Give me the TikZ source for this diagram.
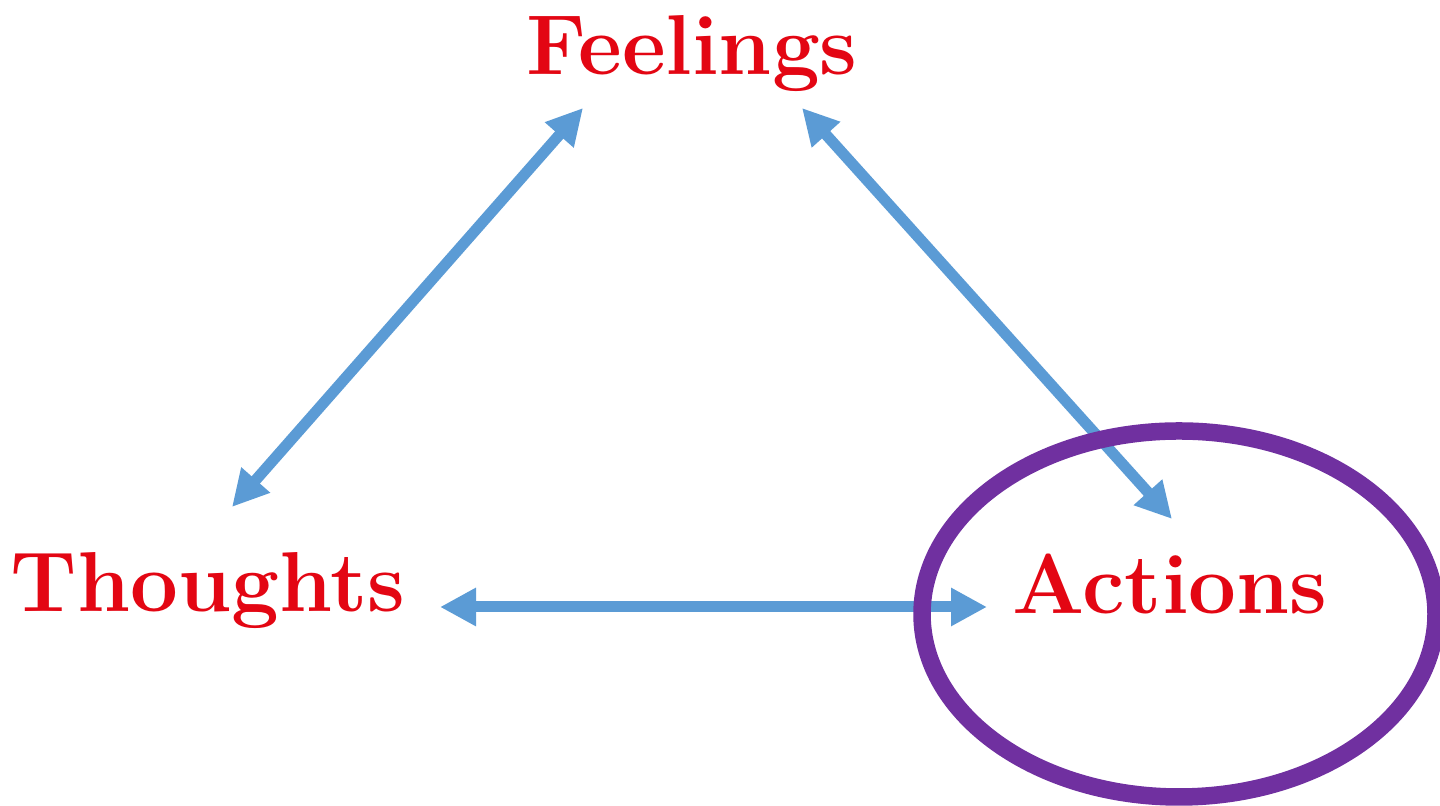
\documentclass[tikz,border=0pt]{standalone}
\usetikzlibrary{arrows.meta}
\definecolor{wordred}{HTML}{E30613}
\definecolor{linkblue}{HTML}{5B9BD5}
\definecolor{ringpurple}{HTML}{7030A0}

\begin{document}
\begin{tikzpicture}[>={Triangle[length=3.6mm,width=3.6mm]},
  every node/.style={font=\fontsize{24.2}{29}\selectfont\bfseries,text=wordred,inner sep=0pt,anchor=base},
  link/.style={<->,draw=linkblue,line width=1.1mm}]
  \useasboundingbox (0,0) rectangle (14.4,8.06);
  \node (feel) at (6.92,7.31) {Feelings};
  \node (thou) at (2.08,1.94) {Thoughts};
  \node (act) at (11.70,1.92) {Actions};
  % arrow ends
  \coordinate (ft) at (5.83,6.98);
  \coordinate (fa) at (8.02,6.98);
  \coordinate (tf) at (2.32,2.99);
  \coordinate (ta) at (4.40,1.99);
  \coordinate (at) at (9.87,1.99);
  \coordinate (af) at (11.72,2.87);
  \draw[link] (tf) -- (ft);
  \draw[link] (fa) -- (af);
  \draw[link] (ta) -- (at);
  \draw[ringpurple,line width=1.75mm] (11.79,1.92) ellipse (2.57 and 1.83);
\end{tikzpicture}
\end{document}
